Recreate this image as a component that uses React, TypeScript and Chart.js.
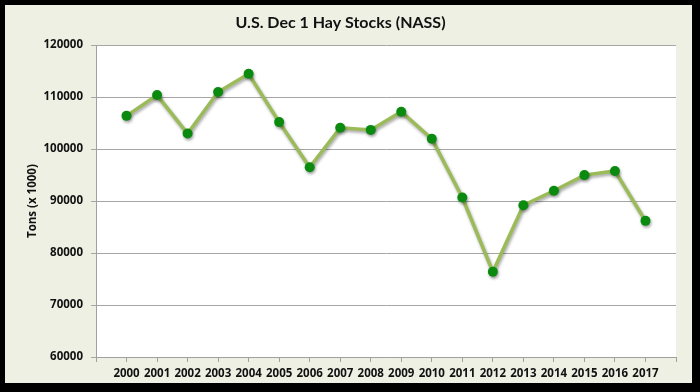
import React, { useEffect, useRef } from "react";
import { Chart, registerables } from "chart.js";

Chart.register(...registerables);

const TITLE = "U.S. Dec 1 Hay Stocks (NASS)";
const Y_TITLE = "Tons (x 1000)";
const categories = ["2000","2001","2002","2003","2004","2005","2006","2007","2008","2009","2010","2011","2012","2013","2014","2015","2016","2017"];
const stocks = [106400,110400,103000,111000,114500,105200,96500,104100,103700,107200,102000,90700,76400,89200,92000,95000,95800,86200];
const Y_MIN = 60000;
const Y_MAX = 120000;
const Y_STEP = 10000;

const FONT = "'Open Sans', Lato, sans-serif";

const plotBg = {
  id: "plotBg",
  beforeDraw(chart: any) {
    const { ctx, chartArea } = chart;
    ctx.save();
    ctx.fillStyle = "#ffffff";
    ctx.fillRect(chartArea.left, chartArea.top, chartArea.right - chartArea.left, chartArea.bottom - chartArea.top);
    ctx.restore();
  },
  beforeDatasetsDraw(chart: any) {
    const ctx = chart.ctx;
    ctx.save();
    ctx.shadowColor = "rgba(0,0,0,0.35)";
    ctx.shadowBlur = 3;
    ctx.shadowOffsetX = 1;
    ctx.shadowOffsetY = 2;
  },
  afterDatasetsDraw(chart: any) {
    chart.ctx.restore();
  },
};

export default function App() {
  const ref = useRef<HTMLCanvasElement>(null);
  useEffect(() => {
    document.body.style.margin = "0";
    const labels = ["", ...categories, ""];
    const data = [null, ...stocks, null];
    const chart = new Chart(ref.current!, {
      type: "line",
      data: {
        labels,
        datasets: [
          {
            data,
            borderColor: "#9bbb59",
            borderWidth: 3.5,
            pointBackgroundColor: "#0b8a10",
            pointBorderColor: "#0b8a10",
            pointRadius: 5,
            pointBorderWidth: 0,
            tension: 0,
            spanGaps: false,
          },
        ],
      },
      options: {
        responsive: false,
        animation: false,
        layout: { padding: { left: 0, right: 16, top: 0, bottom: 0 } },
        plugins: {
          legend: { display: false },
          tooltip: { enabled: false },
          title: {
            display: true,
            text: TITLE,
            color: "#111",
            font: { family: "Lato, sans-serif", size: 16, weight: "bold" },
            padding: { top: 8, bottom: 13 },
          },
        },
        scales: {
          x: {
            type: "category",
            offset: false,
            grid: { display: true, drawOnChartArea: false, color: "#a0a0a0", tickLength: 5 },
            border: { color: "#a0a0a0", width: 1 },
            ticks: {
              autoSkip: false,
              maxRotation: 0,
              minRotation: 0,
              padding: 5,
              color: "#111",
              font: { family: FONT, size: 11.5, weight: "700" },
            },
            afterFit(scale: any) {
              scale.height = 26;
            },
          },
          y: {
            min: Y_MIN,
            max: Y_MAX,
            ticks: {
              stepSize: Y_STEP,
              padding: 8,
              color: "#111",
              font: { family: FONT, size: 11.5, weight: "700" },
              callback: (v: any) => String(v),
            },
            grid: { color: "#a6a6a6", tickLength: 5, lineWidth: 1 },
            border: { color: "#a0a0a0", width: 1 },
            title: {
              display: true,
              text: Y_TITLE,
              color: "#111",
              font: { family: FONT, size: 11.5, weight: "700" },
              padding: { top: 21, bottom: 0 },
            },
            afterFit(scale: any) {
              scale.width = 91;
            },
          },
        },
      },
      plugins: [plotBg],
    });
    return () => chart.destroy();
  }, []);
  return (
    <div style={{ position: "fixed", left: 0, top: 0, width: 700, height: 392, background: "#000" }}>
      <div style={{ position: "absolute", left: 5, top: 5, width: 687, height: 378, background: "#eef0e3" }}>
        <canvas ref={ref} width={687} height={378} style={{ display: "block" }} />
      </div>
    </div>
  );
}
